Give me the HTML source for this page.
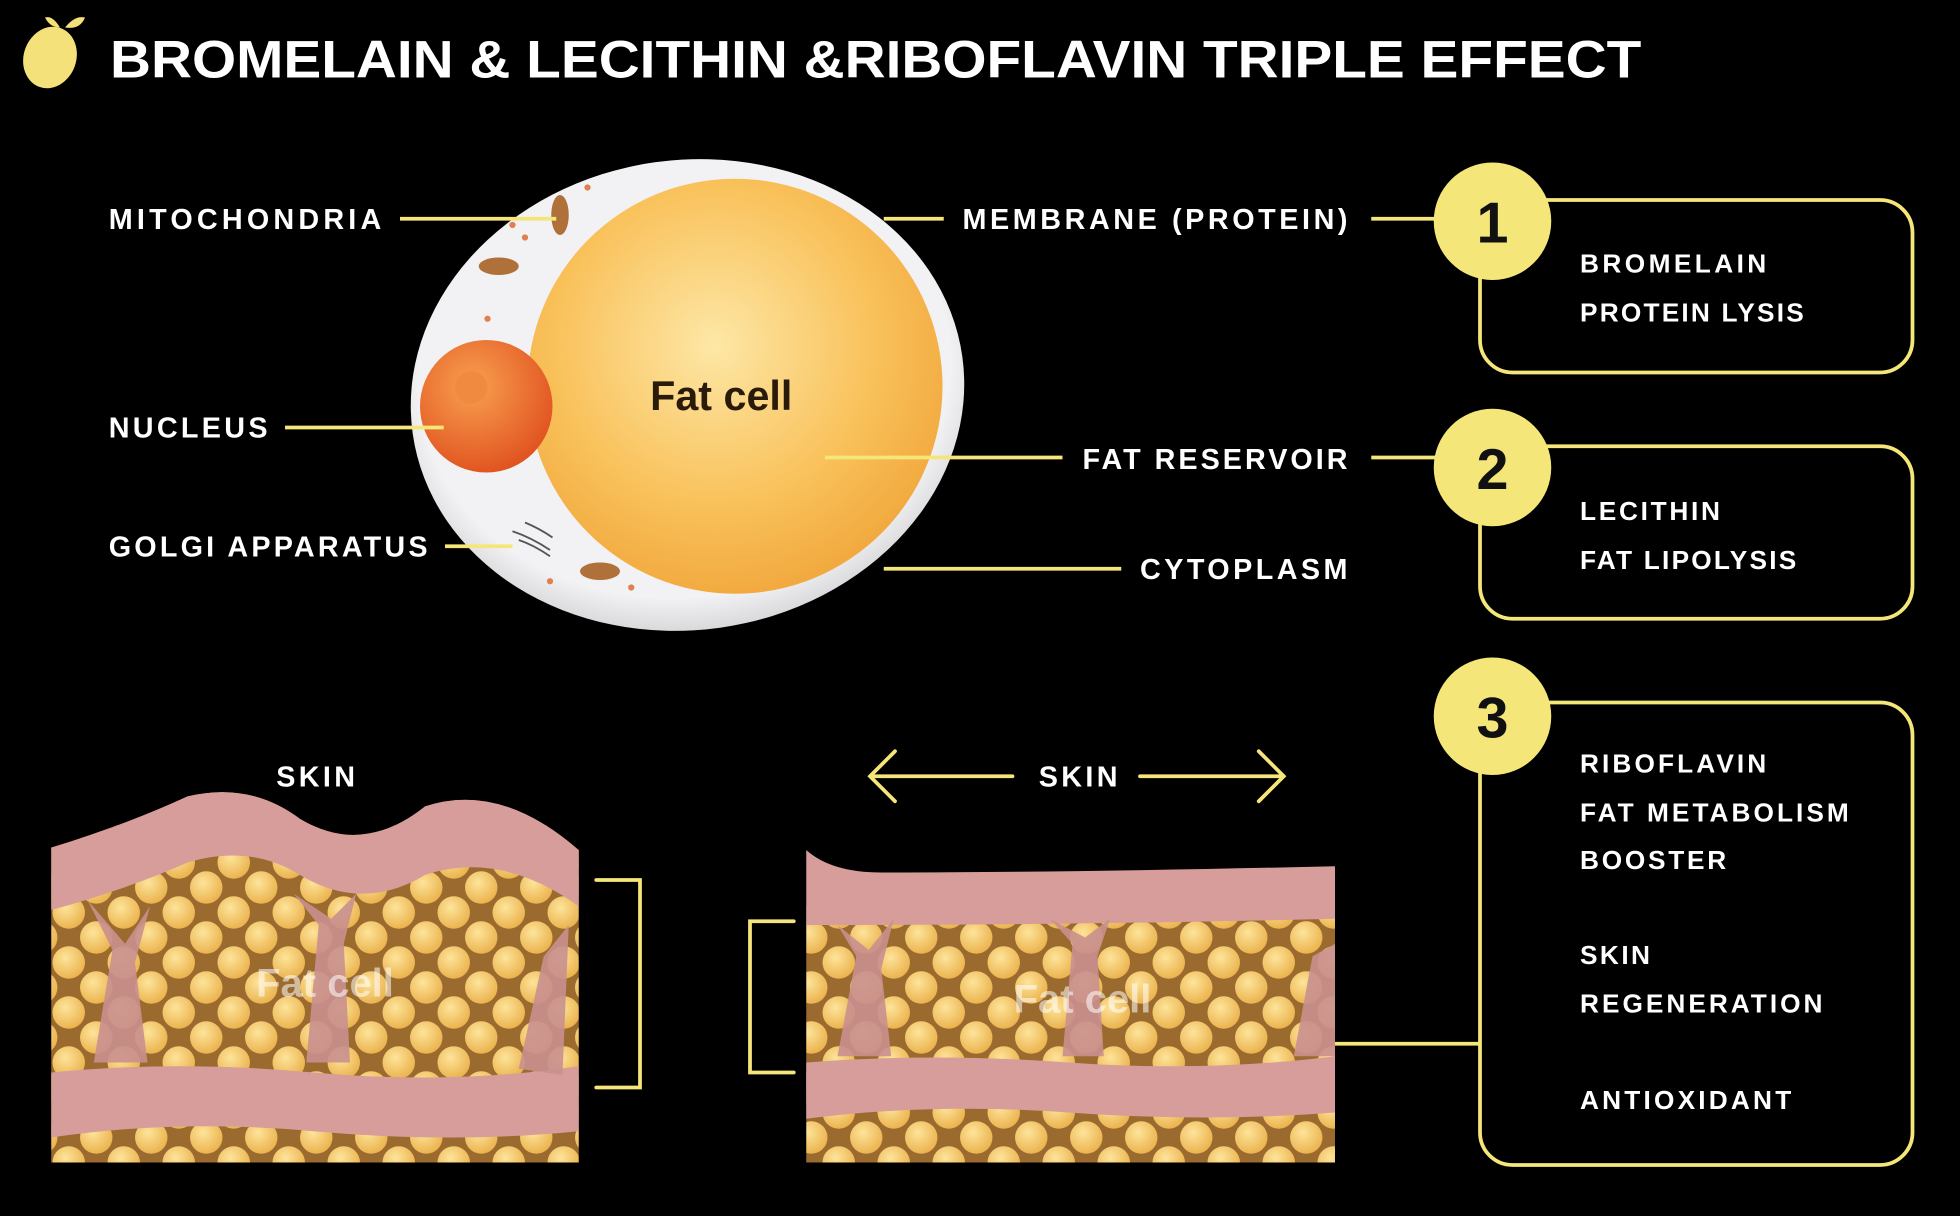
<!DOCTYPE html>
<html><head><meta charset="utf-8"><style>
html,body{margin:0;padding:0;background:#000;}
svg{display:block;}
text{font-family:"Liberation Sans",sans-serif;font-weight:bold;}
</style></head><body>
<svg width="1960" height="1216" viewBox="0 0 1568 972.8" xmlns="http://www.w3.org/2000/svg">
<defs>
<radialGradient id="fat" cx="0.45" cy="0.4" r="0.65"><stop offset="0" stop-color="#fde7a6"/><stop offset="0.6" stop-color="#f9c15a"/><stop offset="1" stop-color="#f0a53a"/></radialGradient>
<radialGradient id="nuc" cx="0.4" cy="0.35" r="0.7"><stop offset="0" stop-color="#f8a050"/><stop offset="1" stop-color="#e0501e"/></radialGradient>
<radialGradient id="mem" cx="0.5" cy="0.45" r="0.6"><stop offset="0.8" stop-color="#f2f2f4"/><stop offset="1" stop-color="#c8c8cc"/></radialGradient>
<radialGradient id="ball" cx="0.4" cy="0.35" r="0.7"><stop offset="0" stop-color="#fde49a"/><stop offset="1" stop-color="#eab04a"/></radialGradient>
<pattern id="balls" width="44" height="40" patternUnits="userSpaceOnUse">
<rect width="44" height="40" fill="#9a6a2e"/>
<circle cx="11" cy="10" r="13" fill="url(#ball)"/>
<circle cx="33" cy="30" r="13" fill="url(#ball)"/>
<circle cx="33" cy="-10" r="13" fill="url(#ball)"/>
<circle cx="-11" cy="30" r="13" fill="url(#ball)"/>
<circle cx="55" cy="10" r="13" fill="url(#ball)"/>
<circle cx="11" cy="50" r="13" fill="url(#ball)"/>
</pattern>
</defs>
<rect width="1568" height="973" fill="#000"/>
<!-- lemon -->
<ellipse cx="40" cy="46" rx="21" ry="25" fill="#f5e17a" transform="rotate(20 40 46)"/>
<path d="M52 22 q8 -10 16 -8 q-4 10 -16 8z" fill="#f5e17a"/>
<path d="M48 22 q-6 -10 -12 -8 q4 8 12 8z" fill="#f5e17a"/>
<text x="88" y="62" font-size="42" fill="#fff" textLength="1225" lengthAdjust="spacingAndGlyphs">BROMELAIN &amp; LECITHIN &amp;RIBOFLAVIN TRIPLE EFFECT</text>
<!-- cell -->
<ellipse cx="550" cy="316" rx="222" ry="188" fill="url(#mem)" transform="rotate(-8 550 316)"/>
<circle cx="588" cy="309" r="166" fill="url(#fat)"/>
<circle cx="389" cy="325" r="53" fill="url(#nuc)"/>
<circle cx="377" cy="310" r="13" fill="#f08a40"/>
<ellipse cx="448" cy="172" rx="7" ry="16" fill="#b0703a"/>
<ellipse cx="399" cy="213" rx="16" ry="7" fill="#b0703a"/>
<ellipse cx="480" cy="457" rx="16" ry="7" fill="#b0703a"/>
<g fill="#e08050"><circle cx="420" cy="190" r="2.5"/><circle cx="470" cy="150" r="2.5"/><circle cx="390" cy="255" r="2.5"/><circle cx="505" cy="470" r="2.5"/><circle cx="440" cy="465" r="2.5"/><circle cx="410" cy="180" r="2.5"/></g>
<g stroke="#555" stroke-width="1.5" fill="none"><path d="M410 425 q15 5 30 15"/><path d="M415 432 q12 4 25 13"/><path d="M420 418 q12 5 22 12"/></g>
<text x="577" y="328" font-size="33" fill="#2a1a0a" text-anchor="middle">Fat cell</text>
<!-- lines -->
<g stroke="#f5e67a" stroke-width="3">
<line x1="320" y1="175" x2="445" y2="175"/>
<line x1="228" y1="342" x2="355" y2="342"/>
<line x1="356" y1="437" x2="410" y2="437"/>
<line x1="707" y1="175" x2="755" y2="175"/>
<line x1="1097" y1="175" x2="1150" y2="175"/>
<line x1="660" y1="366" x2="850" y2="366"/>
<line x1="1097" y1="366" x2="1150" y2="366"/>
<line x1="707" y1="455" x2="897" y2="455"/>
<line x1="1068" y1="835" x2="1184" y2="835"/>
</g>
<!-- boxes -->
<g fill="none" stroke="#f5e67a" stroke-width="3">
<rect x="1184" y="160" width="346" height="138" rx="26"/>
<rect x="1184" y="357" width="346" height="138" rx="26"/>
<rect x="1184" y="562" width="346" height="370" rx="26"/>
</g>
<g fill="#f5e67a"><circle cx="1194" cy="177" r="47"/><circle cx="1194" cy="374" r="47"/><circle cx="1194" cy="573" r="47"/></g>
<g font-size="46" fill="#111" text-anchor="middle"><text x="1194" y="194">1</text><text x="1194" y="391">2</text><text x="1194" y="590">3</text></g>
<g font-size="21" fill="#fff" lengthAdjust="spacingAndGlyphs">
<text x="1264" y="218" textLength="149">BROMELAIN</text><text x="1264" y="257" textLength="179">PROTEIN LYSIS</text>
<text x="1264" y="416" textLength="112">LECITHIN</text><text x="1264" y="455" textLength="173">FAT LIPOLYSIS</text>
<text x="1264" y="618" textLength="149">RIBOFLAVIN</text><text x="1264" y="657" textLength="215">FAT METABOLISM</text><text x="1264" y="695" textLength="117">BOOSTER</text>
<text x="1264" y="771" textLength="56">SKIN</text><text x="1264" y="810" textLength="194">REGENERATION</text>
<text x="1264" y="887" textLength="169">ANTIOXIDANT</text>
</g>
<!-- arrows -->
<g stroke="#f5e67a" stroke-width="3" fill="none" stroke-linecap="round">
<line x1="810" y1="621" x2="697" y2="621"/><polyline points="716,601 696,621 716,641"/>
<line x1="912" y1="621" x2="1026" y2="621"/><polyline points="1007,601 1027,621 1007,641"/>
<polyline points="477,704 512,704 512,870 477,870"/>
<polyline points="635,737 600,737 600,858 635,858"/>
</g>
<!-- left skin panel -->
<g>
<rect x="41" y="660" width="422" height="270" fill="url(#balls)"/>
<path d="M41 678 Q100 660 150 637 Q200 625 240 655 Q290 685 340 645 Q400 625 463 680 L463 725 Q400 680 340 700 Q290 730 240 700 Q200 675 150 690 Q100 712 41 728 Z" fill="#d69d9a"/>
<path d="M30 633 L475 633 L475 680 L463 680 Q400 625 340 645 Q290 685 240 655 Q200 625 150 637 Q100 660 41 678 L30 678 Z" fill="#000"/>
<path d="M41 858 q100 -10 210 0 q110 10 212 -5 L463 905 q-100 10 -212 0 q-110 -10 -210 5z" fill="#d69d9a"/>
<g fill="#c9908f" opacity="0.9"><path d="M75 850 l15 -90 l-20 -40 l30 35 l20 -30 l-12 45 l10 80z"/><path d="M245 850 l10 -110 l-20 -25 l30 20 l20 -20 l-10 40 l5 95z"/><path d="M415 855 l20 -90 l20 -25 l-5 120z"/></g>
<text x="260" y="797" font-size="32" fill="#fff" fill-opacity="0.55" text-anchor="middle">Fat cell</text>
</g>
<!-- right skin panel -->
<g>
<rect x="645" y="725" width="423" height="205" fill="url(#balls)"/>
<path d="M645 680 q20 18 60 18 q150 0 363 -5 L1068 735 q-200 5 -423 5z" fill="#d69d9a"/>
<path d="M645 850 q100 -8 210 0 q110 8 213 -5 L1068 890 q-100 8 -213 0 q-110 -8 -210 5z" fill="#d69d9a"/>
<g fill="#c9908f" opacity="0.9"><path d="M670 845 l15 -80 l-15 -25 l25 20 l20 -25 l-10 40 l8 70z"/><path d="M850 845 l8 -90 l-18 -20 l28 15 l20 -15 l-10 30 l5 80z"/><path d="M1035 845 l15 -80 l18 -10 l0 90z"/></g>
<text x="866" y="810" font-size="32" fill="#fff" fill-opacity="0.55" text-anchor="middle">Fat cell</text>
</g>
<g font-size="23" fill="#fff" lengthAdjust="spacingAndGlyphs">
<text x="87" y="183" textLength="218">MITOCHONDRIA</text>
<text x="87" y="350" textLength="127">NUCLEUS</text>
<text x="87" y="445" textLength="255">GOLGI APPARATUS</text>
<text x="770" y="183" textLength="308">MEMBRANE (PROTEIN)</text>
<text x="866" y="375" textLength="212">FAT RESERVOIR</text>
<text x="912" y="463" textLength="166">CYTOPLASM</text>
<text x="221" y="629" textLength="63">SKIN</text>
<text x="831" y="629" textLength="63">SKIN</text>
</g>
</svg>
</body></html>
